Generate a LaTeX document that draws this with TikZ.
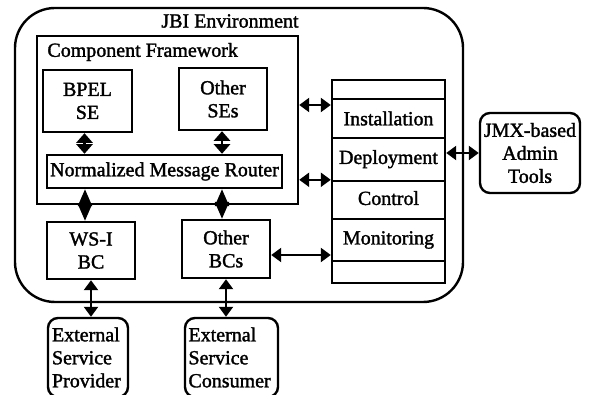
\documentclass[tikz,border=0pt]{standalone}
\usepackage{fontspec}
\setmainfont{Liberation Serif}[FakeBold=1.6]
\usetikzlibrary{arrows.meta,calc}

\tikzset{
  box/.style={draw, line width=1.2pt, inner sep=0pt, align=center},
  rbox/.style={box, rounded corners=5pt},
  lbl/.style={inner sep=0pt},
  row/.style={box, minimum width=56.5pt},
  dbl/.style={line width=1.1pt, {Triangle[length=5pt,width=7pt]}-{Triangle[length=5pt,width=7pt]}},
  shortdbl/.style={line width=1.2pt, {Triangle[length=4.8pt,width=8pt]}-{Triangle[length=4.8pt,width=8pt]}},
  dia/.style={line width=1.1pt, {Triangle[length=8.5pt,width=7pt]}-{Triangle[length=8.5pt,width=7pt]}},
}

\begin{document}
\begin{tikzpicture}[x=0.5pt, y=-0.5pt, font=\fontsize{10}{11.5}\selectfont]
\useasboundingbox (0,0) rectangle (590,395);

% JBI environment
\node[box, rounded corners=20pt, minimum width=224pt, minimum height=147pt] (env) at (239,155) {};
\node[lbl] (envlbl) at (230,21) {JBI Environment};

% component framework
\node[box, minimum width=130.5pt, minimum height=84pt] (cf) at (167.5,120) {};
\node[lbl, anchor=west] (cflbl) at (47,52) {Component Framework};
\node[box, minimum width=44.5pt, minimum height=31pt] (bpel) at (87.5,101) {BPEL\\SE};
\node[box, minimum width=44pt, minimum height=31pt] (ose) at (223,99) {Other\\SEs};
\node[box, minimum width=117.5pt, minimum height=16.5pt] (nmr) at (164.5,171.5) {Normalized Message Router};

% binding components
\node[box, minimum width=44pt, minimum height=28.5pt] (wsi) at (91,250.5) {WS-I\\BC};
\node[box, minimum width=44pt, minimum height=29pt] (obc) at (226,249) {Other\\BCs};

% management column
\node[row, minimum height=9.5pt] (mtop) at (388.5,89.5) {};
\node[row, minimum height=19.5pt] (inst) at (388.5,118.5) {Installation};
\node[row, minimum height=21.5pt] (depl) at (388.5,159.5) {\raisebox{2.5pt}{Deployment}};
\node[row, minimum height=19pt] (ctrl) at (388.5,200) {\raisebox{2pt}{Control}};
\node[row, minimum height=21pt] (mon) at (388.5,240) {Monitoring};
\node[row, minimum height=11pt] (mbot) at (388.5,272) {};

% outside parties
\node[rbox, minimum width=50pt, minimum height=40pt] (jmx) at (530,153) {JMX-based\\Admin\\Tools};
\node[rbox, minimum width=40pt, minimum height=39.5pt, align=left, text width=36pt] (esp) at (88,357.5) {External\\Service\\Provider};
\node[rbox, minimum width=46.5pt, minimum height=39.5pt, align=left, text width=43pt] (esc) at (231.5,357.5) {External\\Service\\Consumer};

% connectors
\draw[shortdbl] ([xshift=-1.5pt]bpel.south) -- ([xshift=-1.5pt]bpel.south |- nmr.north);
\draw[shortdbl] ([xshift=-0.5pt]ose.south) -- ([xshift=-0.5pt]ose.south |- nmr.north);
\draw[dia] ([xshift=-3pt]wsi.north) -- ([xshift=-3pt]wsi.north |- nmr.south);
\draw[dia] ([xshift=-2pt]obc.north) -- ([xshift=-2pt]obc.north |- nmr.south);
\draw[dbl] (wsi.south) -- (wsi.south |- esp.north);
\draw[dbl] (obc.south) -- (obc.south |- esc.north);
\coordinate (a1) at (0,105);
\draw[dbl] (cf.east |- a1) -- (inst.west |- a1);
\draw[dbl] (cf.east |- ctrl.north) -- (ctrl.north west);
\draw[dbl] (depl.east |- jmx.west) -- (jmx.west);
\coordinate (a2) at (0,255);
\draw[dbl] (obc.east |- a2) -- (mon.west |- a2);
\end{tikzpicture}
\end{document}
